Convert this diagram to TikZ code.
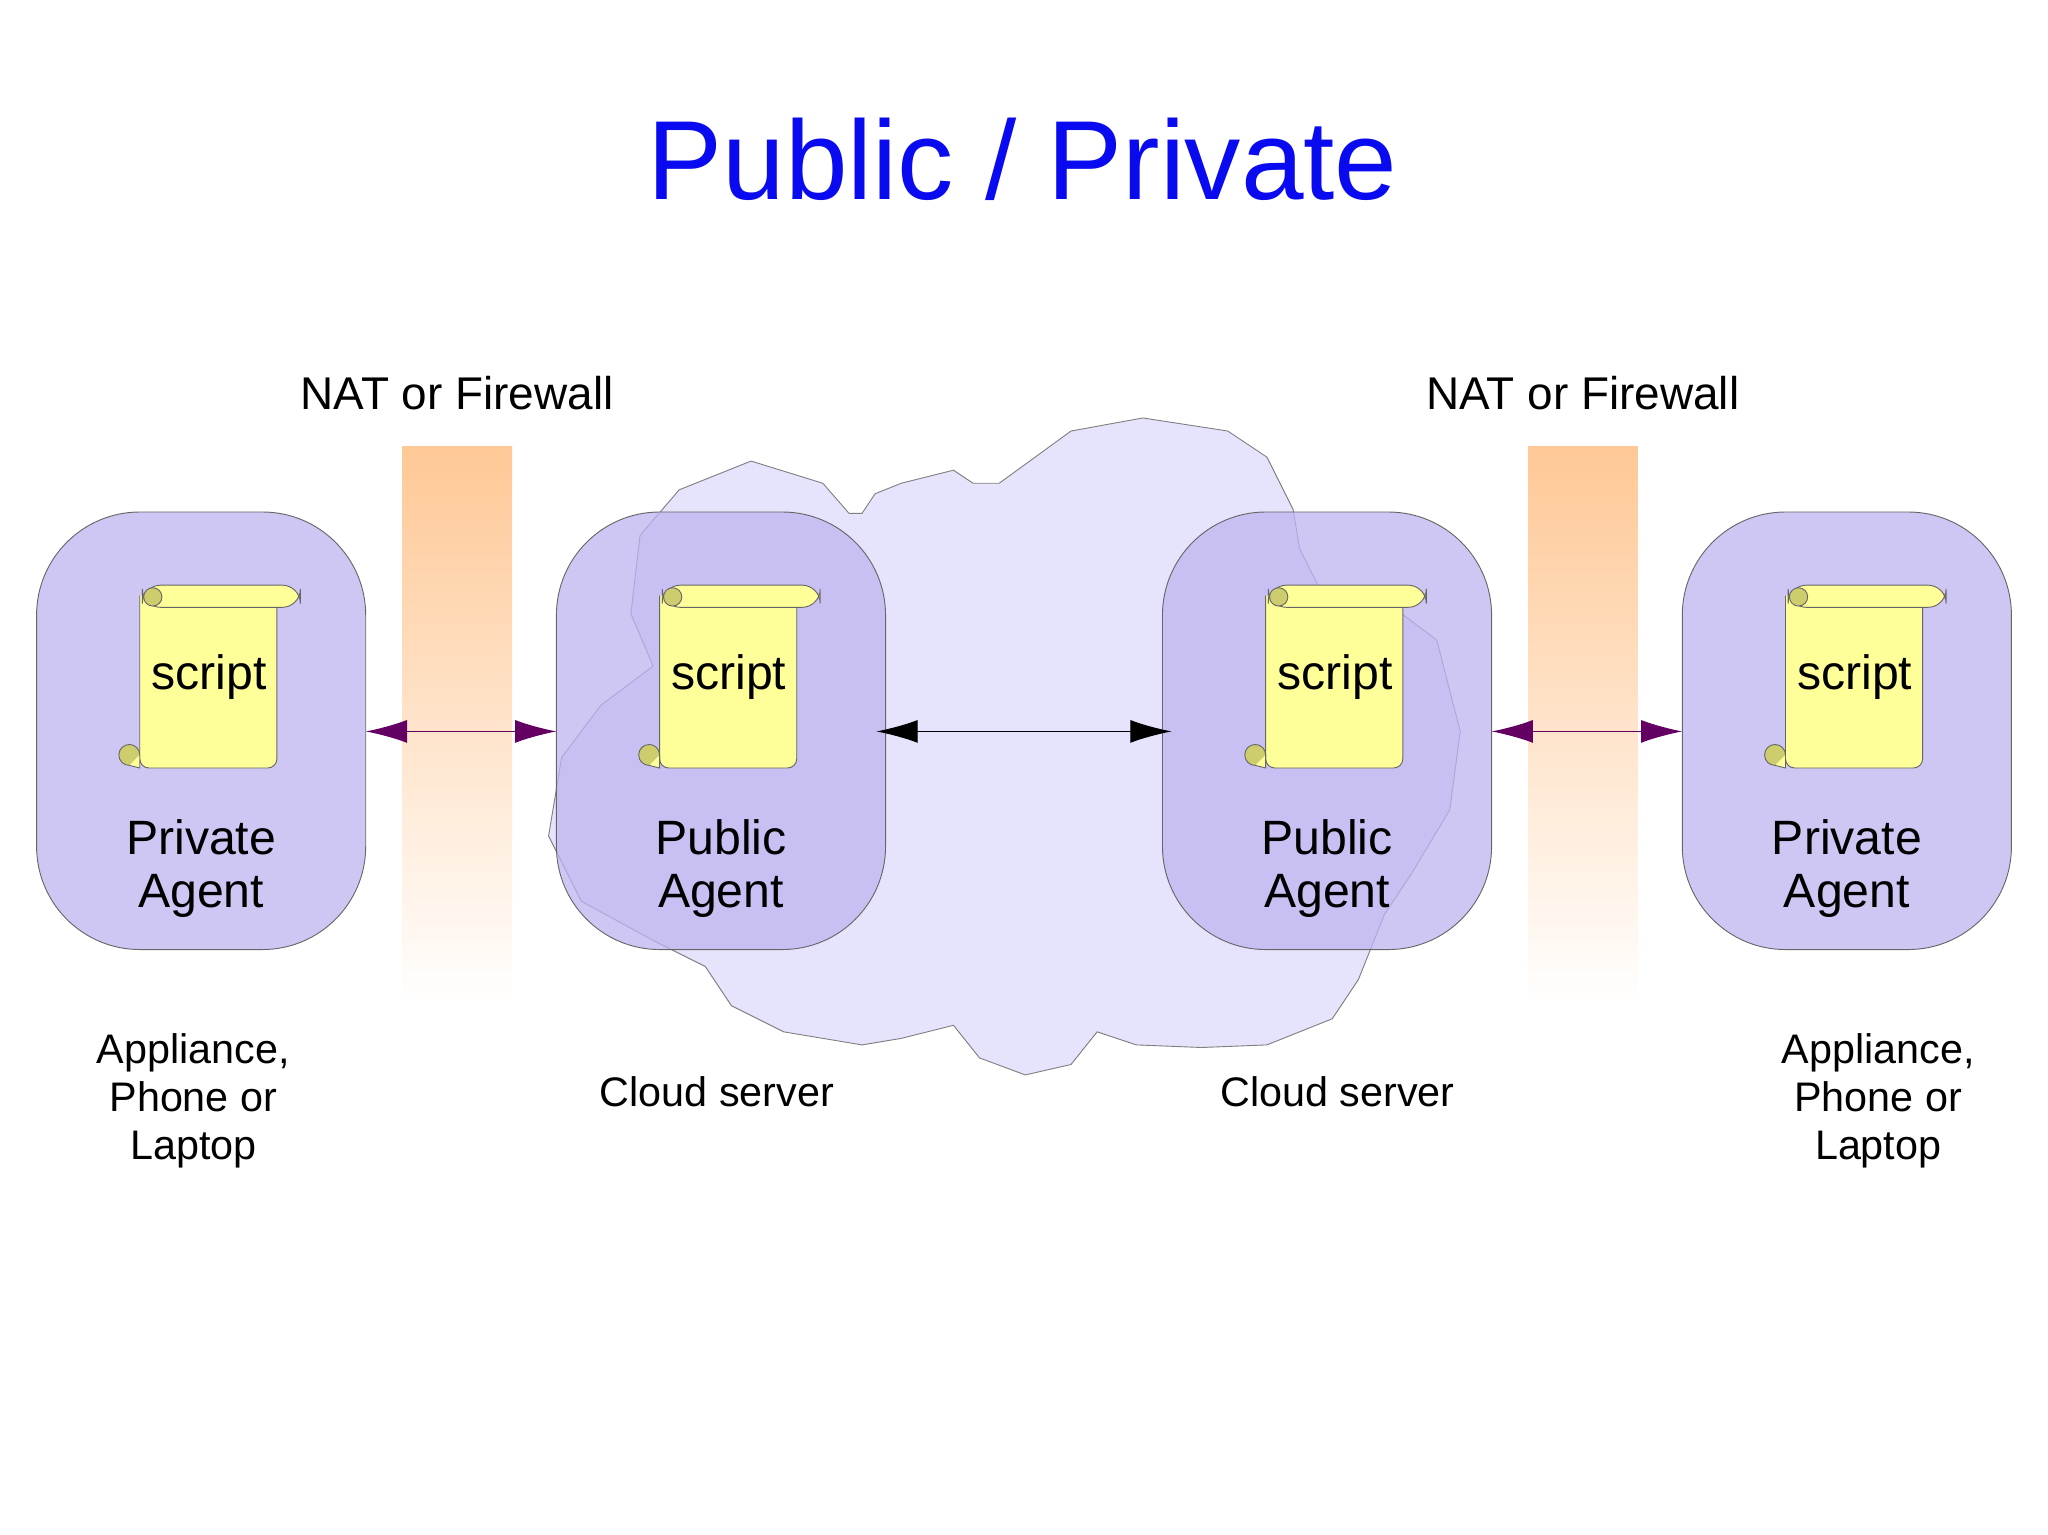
\documentclass[tikz,border=0pt]{standalone}
\usepackage{fontspec}
\setmainfont{Liberation Sans}
\begin{document}
\begin{tikzpicture}[x=0.02cm,y=-0.02cm,
  agent/.style={draw=black!60,fill={rgb,255:red,190;green,180;blue,240},fill opacity=0.75,text opacity=1,rounded corners=45},
  lbl/.style={font=\fontsize{21}{25}\selectfont,align=center},
  small/.style={font=\fontsize{18}{21}\selectfont,align=center},
  parr/.style={draw={rgb,255:red,100;green,0;blue,100},line width=0.5pt,{Latex[length=18pt,width=10pt]}-{Latex[length=18pt,width=10pt]}}]
\usetikzlibrary{arrows.meta}
\definecolor{scr}{RGB}{255,255,153}
\definecolor{curl}{RGB}{205,205,110}
\definecolor{org}{RGB}{255,200,150}
\definecolor{cld}{RGB}{230,228,252}
\useasboundingbox (0,0) rectangle (1568,1175);
\node[text={rgb,255:red,10;green,10;blue,240},font=\fontsize{49}{58}\selectfont] (title) at (783,122) {Public / Private};
% firewalls
\foreach \x/\n in {308/fa,1170/fb}{
  \shade[top color=org,bottom color=white] (\x,342) rectangle (\x+84,770);
  \node[lbl,font=\fontsize{20}{24}\selectfont] (\n) at (\x+42,301) {NAT or Firewall};
}
% cloud
\draw[black!50,fill=cld] (650,393)--(630,370)--(575,353)--(520,375)--(490,410)--(483,470)--(500,510)--(460,540)--(430,580)--(420,640)--(445,690)--(500,720)--(540,740)--(560,770)--(600,790)--(660,800)--(690,795)--(730,785)--(750,810)--(785,823)--(820,815)--(840,790)--(870,800)--(920,802)--(970,800)--(1020,780)--(1040,750)--(1060,700)--(1080,670)--(1110,620)--(1118,560)--(1100,490)--(1060,460)--(1010,450)--(995,420)--(990,390)--(970,350)--(940,330)--(875,320)--(820,330)--(765,370)--(745,370)--(730,360)--(690,370)--(670,378)--(660,393)--cycle;
% agents
\foreach \x/\t/\n in {28/Private/a1,426/Public/a2,890/Public/a3,1288/Private/a4}{
  \draw[agent] (\x,392) rectangle (\x+252,727);
  \coordinate (\n) at (\x+126,560);
  \coordinate (\n w) at (\x,560);
  \coordinate (\n e) at (\x+252,560);
  \begin{scope}[shift={(\x+79,0)}]
    \draw[black!60,fill=scr,rounded corners=4] (0,456) -- (0,588) -- (105,588) -- (105,456);
    \draw[black!60,fill=scr,rounded corners=8] (2,448) rectangle (123,465);
    \draw[black!60,fill=curl] (10,457) circle (7);
    \draw[black!60,fill=curl] (-8,578) circle (8);
    \draw[black!60,fill=scr] (0,578) -- (0,588) -- (-8,586);
    \node[lbl] (s\n) at (53,518) {script};
  \end{scope}
  \node[lbl] (t\n) at (\x+126,665) {\t\\[-2pt]Agent};
}
\node[small] (d1) at (148,843) {Appliance,\\Phone or\\Laptop};
\node[small] (d4) at (1438,843) {Appliance,\\Phone or\\Laptop};
\node[small] (c2) at (549,836) {Cloud server};
\node[small] (c3) at (1024,836) {Cloud server};
\draw[parr] (a1e) -- (a2w);
\draw[parr] (a3e) -- (a4w);
\draw[black,line width=0.5pt,{Latex[length=18pt,width=10pt]}-{Latex[length=18pt,width=10pt]}] ([xshift=-4]a2e) -- ([xshift=4]a3w);
\end{tikzpicture}
\end{document}
